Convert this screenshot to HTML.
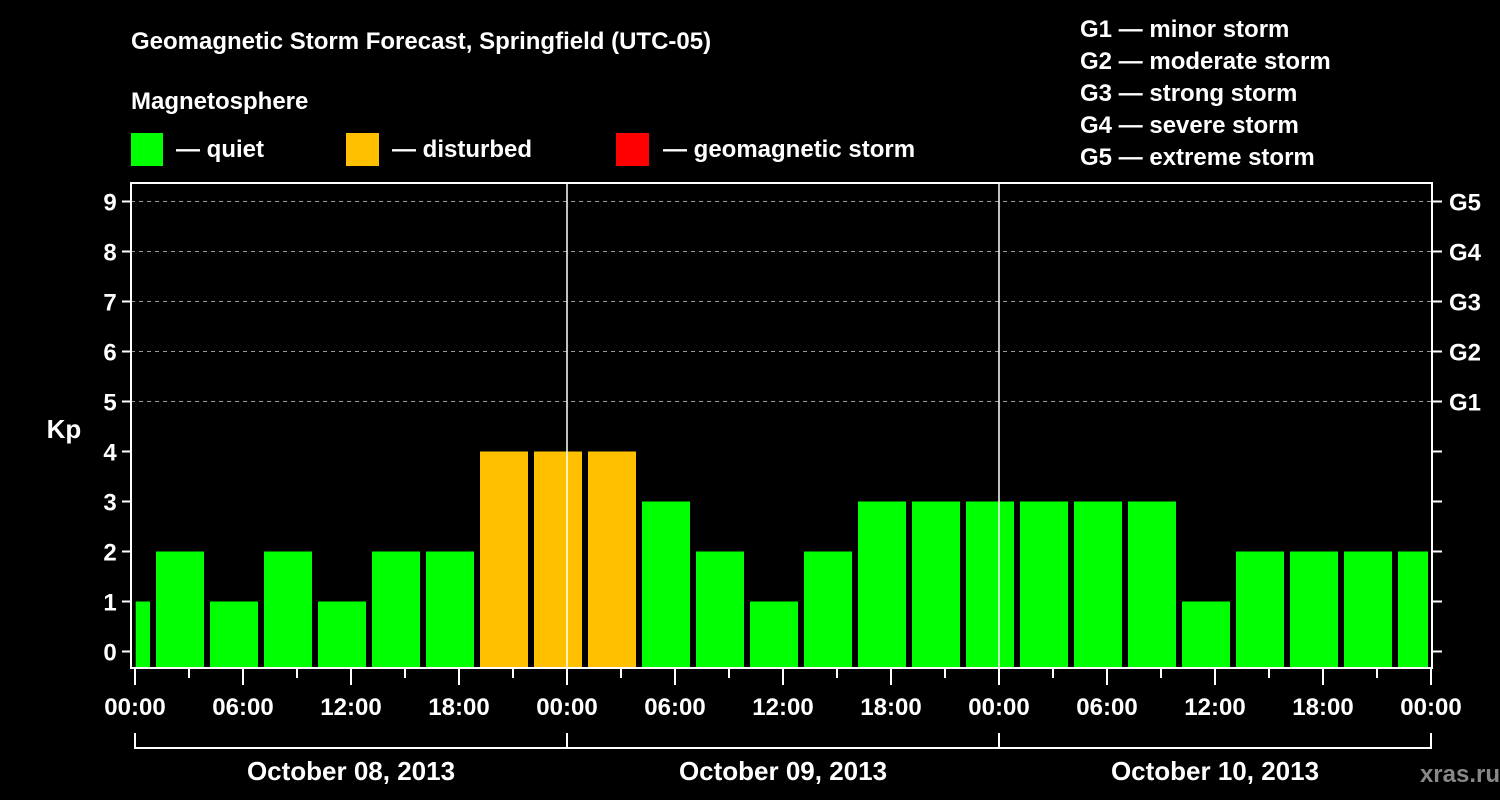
<!DOCTYPE html>
<html><head><meta charset="utf-8"><style>
html,body{margin:0;padding:0;background:#000;}
svg{display:block;font-family:"Liberation Sans",Arial,sans-serif;font-weight:bold;}
</style></head><body>
<svg width="1500" height="800" viewBox="0 0 1500 800">
<rect x="0" y="0" width="1500" height="800" fill="#000"/>
<text x="131" y="49" fill="#fff" font-size="24">Geomagnetic Storm Forecast, Springfield (UTC-05)</text>
<text x="131" y="109" fill="#fff" font-size="24">Magnetosphere</text>
<g><rect x="131" y="133" width="32" height="33" fill="#00ff00"/><text x="176" y="157" fill="#fff" font-size="24">— quiet</text></g>
<g><rect x="346" y="133" width="33" height="33" fill="#ffc000"/><text x="392" y="157" fill="#fff" font-size="24">— disturbed</text></g>
<g><rect x="616" y="133" width="33" height="33" fill="#ff0000"/><text x="663" y="157" fill="#fff" font-size="24">— geomagnetic storm</text></g>
<g fill="#fff" font-size="24">
<text x="1080" y="37">G1 — minor storm</text>
<text x="1080" y="69">G2 — moderate storm</text>
<text x="1080" y="101">G3 — strong storm</text>
<text x="1080" y="133">G4 — severe storm</text>
<text x="1080" y="165">G5 — extreme storm</text>
</g>
<text x="64" y="438" fill="#fff" font-size="26" text-anchor="middle">Kp</text>
<text x="1500" y="782" fill="#888" font-size="24" text-anchor="end">xras.ru  </text>
<g id="chart"></g>
</svg>
<script>
const kpValues=[1,2,1,2,1,2,2,4,4,4,3,2,1,2,3,3,3,3,3,3,1,2,2,2,2];
const startHours=[0,1,4,7,10,13,16,19,22,25,28,31,34,37,40,43,46,49,52,55,58,61,64,67,70];
const endHours=[1,4,7,10,13,16,19,22,25,28,31,34,37,40,43,46,49,52,55,58,61,64,67,70,72];
const yTicks=[0,1,2,3,4,5,6,7,8,9];
const gLabels=["","","","","","G1","G2","G3","G4","G5"];
const timeLabels=["00:00","06:00","12:00","18:00","00:00","06:00","12:00","18:00","00:00","06:00","12:00","18:00","00:00"];
const dayLabels=["October 08, 2013","October 09, 2013","October 10, 2013"];
const NS="http://www.w3.org/2000/svg";
const g=document.getElementById('chart');
const X=h=>135+18*h;
const Y=v=>651.5-50*v;
const top_=183,bot=668,left=131,right=1432;
function el(t,a,txt){const e=document.createElementNS(NS,t);for(const k in a)e.setAttribute(k,a[k]);if(txt!==undefined)e.textContent=txt;g.appendChild(e);return e;}
function color(v){return v>=5?"#ff0000":(v>=4?"#ffc000":"#00ff00");}
// grid
yTicks.forEach(v=>{if(v>=5){const l=el('line',{x1:left,x2:right,y1:Y(v),y2:Y(v),stroke:'#999','stroke-dasharray':'4,4','stroke-width':1});

}});
// bars
kpValues.forEach((v,i)=>{const x0=X(startHours[i])+(i===0?0.7:3),x1=X(endHours[i])-3;
const r=el('rect',{x:x0,y:Y(v),width:x1-x0,height:bot-Y(v),fill:color(v)});

});
// midnight lines
[24,48].forEach(h=>{const l=el('line',{x1:X(h),x2:X(h),y1:top_,y2:bot,stroke:'#fff','stroke-width':1.5});

});
// frame
const f=el('rect',{x:left,y:top_,width:right-left,height:bot-top_,fill:'none',stroke:'#fff','stroke-width':2});


// y ticks
yTicks.forEach((v,i)=>{el('line',{x1:122,x2:left,y1:Y(v),y2:Y(v),stroke:'#fff','stroke-width':2});
const t=el('text',{x:110,y:Y(v)+9,fill:'#fff','font-size':24,'text-anchor':'middle'},String(v));


el('line',{x1:right,x2:1442,y1:Y(v),y2:Y(v),stroke:'#fff','stroke-width':2});
if(gLabels[i]){const r=el('text',{x:1449,y:Y(v)+9,fill:'#fff','font-size':24},gLabels[i]);

}});
// x ticks
for(let h=0;h<=72;h+=3){const major=h%6===0;el('line',{x1:X(h),x2:X(h),y1:bot,y2:major?685:678,stroke:'#fff','stroke-width':2});}
timeLabels.forEach((s,i)=>{const t=el('text',{x:X(i*6),y:715,fill:'#fff','font-size':24,'text-anchor':'middle'},s);

});
// day brackets
el('line',{x1:X(0),x2:X(72),y1:748,y2:748,stroke:'#fff','stroke-width':2});
[0,24,48,72].forEach(h=>el('line',{x1:X(h),x2:X(h),y1:733,y2:749,stroke:'#fff','stroke-width':2}));
dayLabels.forEach((s,i)=>{const t=el('text',{x:X(i*24+12),y:780,fill:'#fff','font-size':26,'text-anchor':'middle'},s);

});
</script>
</body></html>
